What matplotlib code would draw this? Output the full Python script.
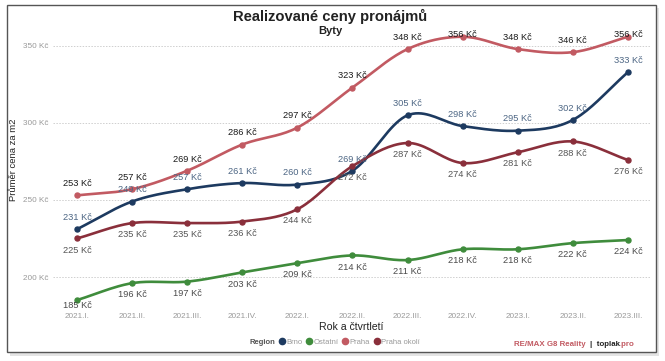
import numpy as np
import matplotlib.pyplot as plt
from matplotlib.patches import Rectangle
from matplotlib.lines import Line2D

plt.rcParams["font.family"] = ["Liberation Sans", "DejaVu Sans"]

# data
quarters = ["2021.I.", "2021.II.", "2021.III.", "2021.IV.", "2022.I.", "2022.II.",
            "2022.III.", "2022.IV.", "2023.I.", "2023.II.", "2023.III."]
brno = [231, 249, 257, 261, 260, 269, 305, 298, 295, 302, 333]
ostatni = [185, 196, 197, 203, 209, 214, 211, 218, 218, 222, 224]
praha = [253, 257, 269, 286, 297, 323, 348, 356, 348, 346, 356]
praha_okoli = [225, 235, 235, 236, 244, 272, 287, 274, 281, 288, 276]
yticks = [200, 250, 300, 350]

W, H = 665, 361


def smooth(xs, ys, n=20):
    # catmull-rom spline through the points, only for drawing the curve
    xs = np.asarray(xs, float)
    ys = np.asarray(ys, float)
    px = np.concatenate([[2 * xs[0] - xs[1]], xs, [2 * xs[-1] - xs[-2]]])
    py = np.concatenate([[2 * ys[0] - ys[1]], ys, [2 * ys[-1] - ys[-2]]])
    outx, outy = [], []
    t = np.linspace(0, 1, n, endpoint=False)
    for i in range(1, len(px) - 2):
        for p, out in ((px, outx), (py, outy)):
            p0, p1, p2, p3 = p[i - 1], p[i], p[i + 1], p[i + 2]
            out.extend(0.5 * (2 * p1 + (-p0 + p2) * t + (2 * p0 - 5 * p1 + 4 * p2 - p3) * t ** 2
                              + (-p0 + 3 * p1 - 3 * p2 + p3) * t ** 3))
    outx.append(xs[-1])
    outy.append(ys[-1])
    return np.array(outx), np.array(outy)


fig = plt.figure(figsize=(W / 100, H / 100), dpi=100)

# frame with a soft shadow
fig.patches.append(Rectangle((10 / W, 1 - 356 / H), 649 / W, 348 / H, transform=fig.transFigure,
                             facecolor="#e4e4e4", edgecolor="none", zorder=-3))
fig.patches.append(Rectangle((7 / W, 1 - 352 / H), 649 / W, 347 / H, transform=fig.transFigure,
                             facecolor="white", edgecolor="#555555", linewidth=1, zorder=-2))

# axes placed so that the points land where they are in the reference
left, right, top, bottom = 53, 650, 30, 300
ax = fig.add_axes([left / W, 1 - bottom / H, (right - left) / W, (bottom - top) / H])
ax.set_facecolor("none")
x = np.arange(len(quarters))
ax.set_xlim(-0.435, 10.4)
ymin, ymax = 350 - (bottom - 46) / 1.54, 350 + (46 - top) / 1.54
ax.set_ylim(ymin, ymax)

series = [
    (brno, "Brno", "#1d3a60", "#4d6684", 1),
    (ostatni, "Ostatní", "#3f8c3c", "#4a4a4a", -1),
    (praha, "Praha", "#c25a62", "#1a1a1a", 1),
    (praha_okoli, "Praha okolí", "#8a2f3b", "#555555", -1),
]

for vals, name, col, lcol, side in series:
    sx, sy = smooth(x, vals)
    ax.plot(sx, sy, color=col, lw=1.9, solid_capstyle="round", clip_on=False, zorder=3)
    ax.plot(x, vals, "o", color=col, ms=3.6, clip_on=False, zorder=4)
    for xi, v in zip(x, vals):
        # labels are kept inside the plot area at top and bottom
        ly = v + side * 7.6
        ly = min(max(ly, ymin - 3.3), ymax - 2.6)
        ax.text(xi, ly, f"{v} Kč", ha="center", va="center", fontsize=6.7, color=lcol,
                zorder=5, clip_on=False)

ax.set_yticks(yticks)
ax.set_yticklabels([f"{v} Kč" for v in yticks])
ax.set_xticks(x)
ax.set_xticklabels(quarters)
ax.tick_params(axis="both", length=0, labelsize=5.9, labelcolor="#999999")
ax.tick_params(axis="x", pad=9)
ax.tick_params(axis="y", pad=3)
ax.grid(axis="y", color="#cfcfcf", linestyle=(0, (1.5, 1.5)), linewidth=0.7)
for s in ax.spines.values():
    s.set_visible(False)

ax.set_ylabel("Průměr cena za m2", fontsize=6.8, color="#222222")
ax.yaxis.set_label_coords(-0.058, 0.52)
ax.set_xlabel("Rok a čtvrtletí", fontsize=7.6, color="#222222", labelpad=2)
fig.text(0.497, 1 - 16 / H, "Realizované ceny pronájmů", ha="center", va="center",
         fontsize=10.6, fontweight="bold", color="#222222")
fig.text(0.497, 1 - 31 / H, "Byty", ha="center", va="center",
         fontsize=8, fontweight="bold", color="#222222")

# legend
handles = [Line2D([], [], linestyle="none", marker="o", color=c, ms=4.5) for _, _, c, _, _ in series]
blank = Line2D([], [], linestyle="none")
leg = fig.legend([blank] + handles, ["Region"] + [s[1] for s in series], ncol=5,
                 loc="center", bbox_to_anchor=(331 / W, 1 - 342 / H), frameon=False,
                 fontsize=5.5, handlelength=0.6, handletextpad=0.25, columnspacing=0.6,
                 borderpad=0)
for i, t in enumerate(leg.get_texts()):
    t.set_color("#999999")
    if i == 0:
        t.set_color("#555555")
        t.set_fontweight("bold")

# footer
fx, fy = 514 / W, 1 - 345 / H
t1 = fig.text(fx, fy, "RE/MAX G8 Reality", ha="left", va="center", fontsize=5.7,
              fontweight="bold", color="#c25a62")
fig.canvas.draw()
bb = t1.get_window_extent()
t2 = fig.text((bb.x1 + 4) / W, fy, "|  toplak", ha="left", va="center", fontsize=5.7,
              fontweight="bold", color="#222222")
bb2 = t2.get_window_extent()
fig.text(bb2.x1 / W, fy, ".pro", ha="left", va="center", fontsize=5.7,
         fontweight="bold", color="#c25a62")

fig.savefig("out.png", dpi=100)
